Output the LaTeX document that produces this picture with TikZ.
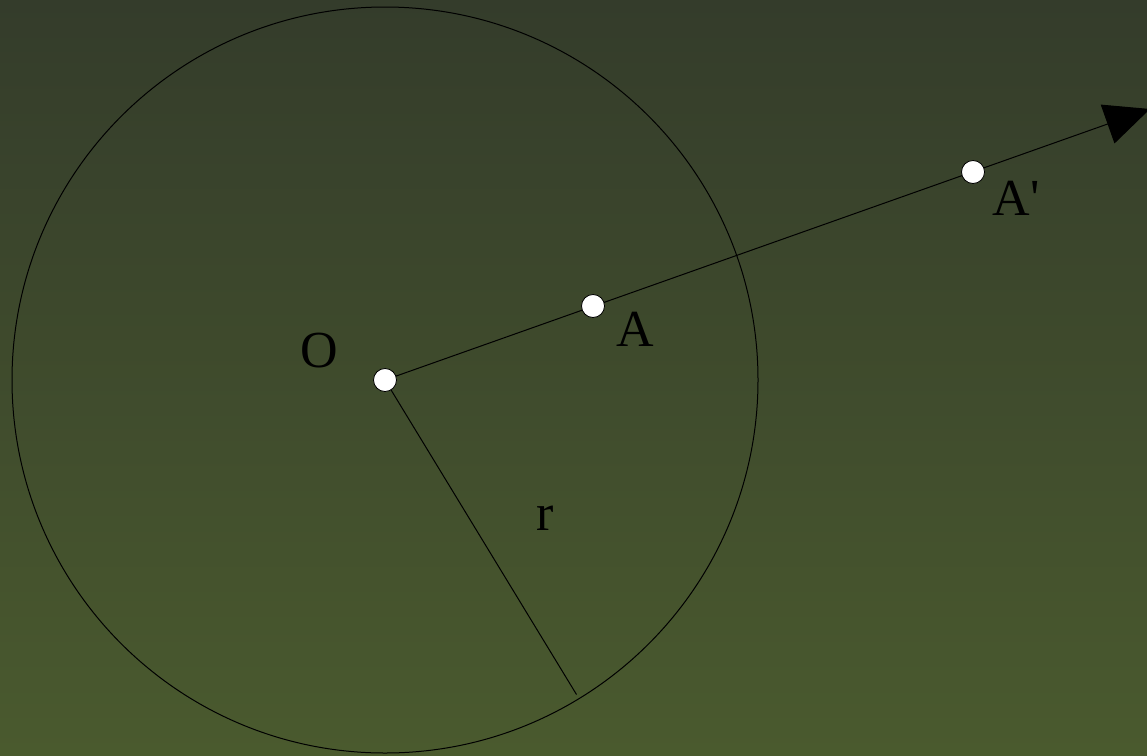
\documentclass[tikz,border=0pt]{standalone}
\usepackage{fontspec}
\setmainfont{Liberation Serif}
\newfontfamily\labelfont{Liberation Serif}
\usetikzlibrary{arrows.meta}
\definecolor{bgtop}{RGB}{52,60,43}
\definecolor{bgbot}{RGB}{74,90,46}
\begin{document}
\begin{tikzpicture}[x=1pt,y=-1pt,
  pt/.style={circle,draw=black,fill=white,line width=0.8pt,inner sep=0pt,minimum size=23pt},
  lbl/.style={font=\labelfont\fontsize{52}{60}\selectfont,text=black,inner sep=0pt},
  thin line/.style={draw=black,line width=1pt}]
  \useasboundingbox (0,0) rectangle (1147,755);
  \shade[top color=bgtop,bottom color=bgbot] (0,0) rectangle (1147,755);
  \coordinate (Oc) at (385,380);
  \draw[thin line] (Oc) circle[radius=373];
  \coordinate (R) at (576.5,694.5);
  \coordinate (T) at (1150,109);
  \draw[thin line,-{Triangle[length=45,width=41]}] (Oc) -- (T);
  \draw[thin line] (Oc) -- (R);
  \node[pt] (O) at (Oc) {};
  \node[pt] (A) at (593,306) {};
  \node[pt] (Ap) at (973,172) {};
  \node[lbl] (lO) at (319,351) {O};
  \node[lbl] (lA) at (635,329) {A};
  \node[lbl] (lAp) at (1016,198) {A'};
  \node[lbl] (lr) at (545,518) {r};
\end{tikzpicture}
\end{document}
